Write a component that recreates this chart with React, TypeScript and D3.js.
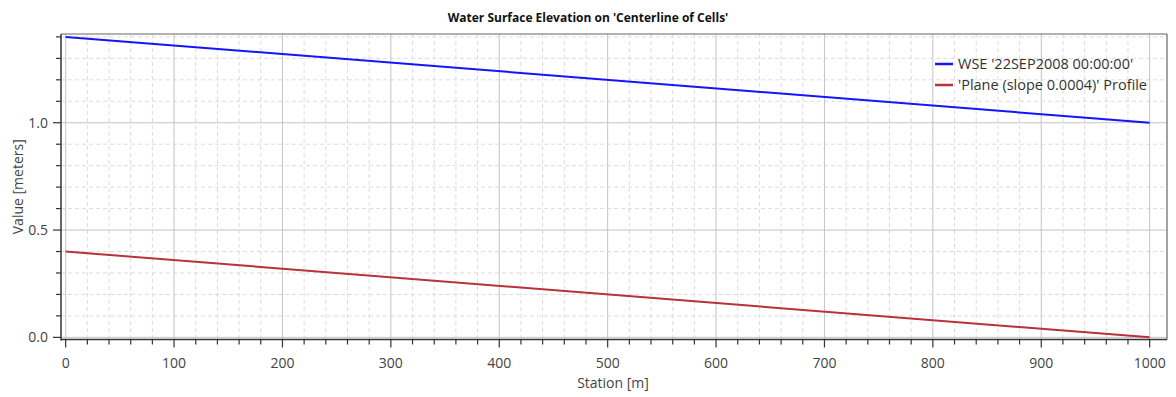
import React from "react";
import * as d3 from "d3";

const stations = [0, 1000];
const wseValues = [1.4, 1.0];
const planeValues = [0.4, 0.0];
const seriesNames = ["WSE '22SEP2008 00:00:00'", "'Plane (slope 0.0004)' Profile"];
const seriesColors = ["#1414ff", "#b8323a"];
const xMajorTicks = [0, 100, 200, 300, 400, 500, 600, 700, 800, 900, 1000];
const yMajorTicks = [0, 0.5, 1.0];

const W = 1176, H = 397;
const L = 61, R = 1167, T = 34, B = 339.5;
const FONT = "'Open Sans', 'Noto Sans', sans-serif";

export default function App() {
  const x = d3.scaleLinear().domain([-4.3, 1016]).range([L, R]);
  const y = d3.scaleLinear().domain([-0.01, 1.4135]).range([B, T]);
  const xMinor = d3.range(0, 1001, 20).filter((v) => v % 100 !== 0);
  const yMinor = d3.range(0, 15).map((i) => i / 10).filter((v) => Math.abs(v * 2 - Math.round(v * 2)) > 1e-6);
  const line = d3.line<[number, number]>().x((d) => x(d[0])).y((d) => y(d[1]));
  const series = [wseValues, planeValues];
  return (
    <svg width={W} height={H} style={{ position: "absolute", left: 0, top: 0, background: "#fff" }} fontFamily={FONT}>
      <rect x={0} y={0} width={W} height={H} fill="#fff" />
      {/* minor grid */}
      {xMinor.map((v) => (
        <line key={"xm" + v} x1={x(v)} x2={x(v)} y1={T} y2={B} stroke="#dcdcdc" strokeDasharray="4,3" strokeWidth={1} />
      ))}
      {yMinor.map((v) => (
        <line key={"ym" + v} x1={L} x2={R} y1={y(v)} y2={y(v)} stroke="#dcdcdc" strokeDasharray="4,3" strokeWidth={1} />
      ))}
      {/* major grid */}
      {xMajorTicks.map((v) => (
        <line key={"xM" + v} x1={x(v)} x2={x(v)} y1={T} y2={B} stroke="#c4c4c4" strokeWidth={1} />
      ))}
      {yMajorTicks.map((v) => (
        <line key={"yM" + v} x1={L} x2={R} y1={y(v)} y2={y(v)} stroke="#c4c4c4" strokeWidth={1} />
      ))}
      {/* series */}
      {series.map((vals, i) => (
        <path key={"s" + i} d={line(stations.map((s, j) => [s, vals[j]] as [number, number])) || ""} fill="none" stroke={seriesColors[i]} strokeWidth={2} />
      ))}
      {/* frame */}
      <line x1={L} x2={R} y1={T} y2={T} stroke="#666" strokeWidth={1.2} />
      <line x1={R} x2={R} y1={T} y2={B} stroke="#666" strokeWidth={1.2} />
      <line x1={L} x2={L} y1={T} y2={B + 1} stroke="#333" strokeWidth={1.5} />
      <line x1={L} x2={R} y1={B} y2={B} stroke="#333" strokeWidth={1.5} />
      {/* y ticks */}
      {yMinor.map((v) => (
        <line key={"yt" + v} x1={L - 5} x2={L} y1={y(v)} y2={y(v)} stroke="#333" strokeWidth={1.2} />
      ))}
      {yMajorTicks.map((v) => (
        <g key={"ytM" + v}>
          <line x1={L - 8} x2={L} y1={y(v)} y2={y(v)} stroke="#333" strokeWidth={1.2} />
          <text x={L - 13} y={y(v)} dy="0.35em" textAnchor="end" fontSize={14} fill="#444">{d3.format(".1f")(v)}</text>
        </g>
      ))}
      {/* x ticks */}
      {xMinor.map((v) => (
        <line key={"xt" + v} x1={x(v)} x2={x(v)} y1={B} y2={B + 5} stroke="#333" strokeWidth={1.2} />
      ))}
      {xMajorTicks.map((v) => (
        <g key={"xtM" + v}>
          <line x1={x(v)} x2={x(v)} y1={B} y2={B + 8} stroke="#333" strokeWidth={1.2} />
          <text x={x(v)} y={363} dy="0.35em" textAnchor="middle" fontSize={14} fill="#444">{v}</text>
        </g>
      ))}
      {/* labels */}
      <text x={588} y={18} dy="0.35em" textAnchor="middle" fontSize={12} fontWeight="bold" fill="#111">Water Surface Elevation on 'Centerline of Cells'</text>
      <text x={613} y={383} dy="0.35em" textAnchor="middle" fontSize={14} fill="#444">Station [m]</text>
      <text transform={`translate(18,${(T + B) / 2}) rotate(-90)`} dy="0.35em" textAnchor="middle" fontSize={14} fill="#444">Value [meters]</text>
      {/* legend */}
      {seriesNames.map((n, i) => (
        <g key={"lg" + i} transform={`translate(935,${64 + i * 21})`}>
          <line x1={0} x2={18} y1={0} y2={0} stroke={seriesColors[i]} strokeWidth={2.5} />
          <text x={23} y={0} dy="0.35em" fontSize={14.5} fill="#333">{n}</text>
        </g>
      ))}
    </svg>
  );
}
